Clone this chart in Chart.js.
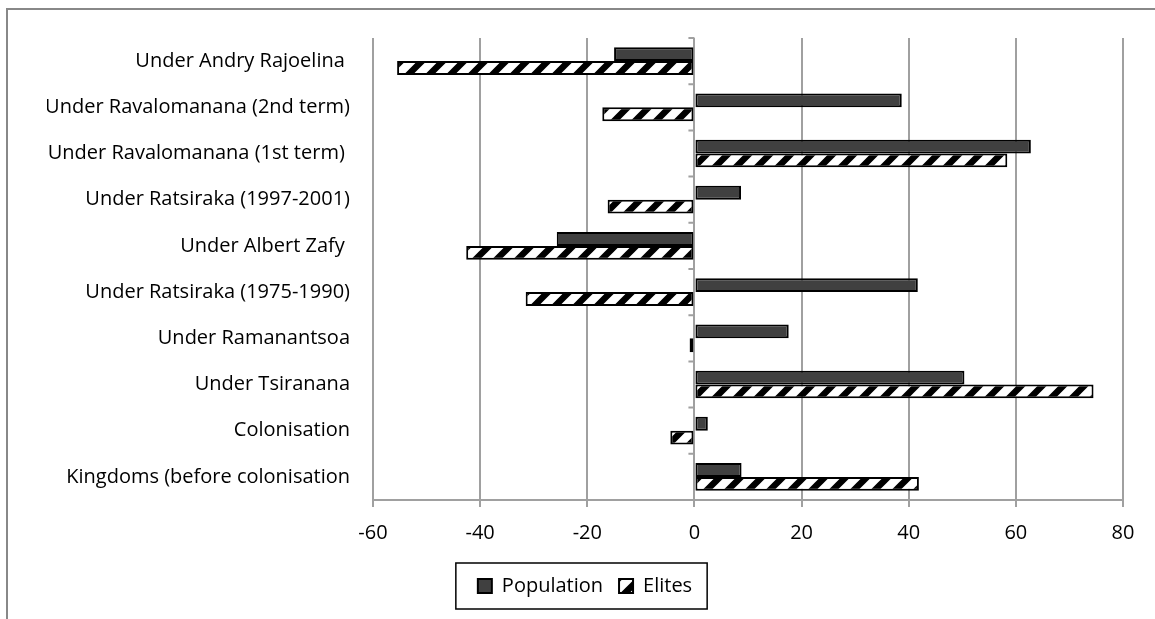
<!DOCTYPE html>
<html>
<head>
<meta charset="utf-8">
<script src="https://cdn.jsdelivr.net/npm/chart.js@4"></script>
<style>
  html, body { margin: 0; padding: 0; background: #fff; }
  #wrap { width: 1155px; height: 619px; position: relative; }
</style>
</head>
<body>
<div id="wrap"><canvas id="graphique"></canvas></div>
<script>
// données
const periodes = [
  "Under Andry Rajoelina ",
  "Under Ravalomanana (2nd term)",
  "Under Ravalomanana (1st term) ",
  "Under Ratsiraka (1997-2001)",
  "Under Albert Zafy ",
  "Under Ratsiraka (1975-1990)",
  "Under Ramanantsoa",
  "Under Tsiranana",
  "Colonisation",
  "Kingdoms (before colonisation"
];
const population = [-15, 38.7, 62.8, 8.7, -25.7, 41.7, 17.6, 50.4, 2.5, 8.8];
const elites = [-55.5, -17.2, 58.4, -16.2, -42.6, -31.5, -0.9, 74.5, -4.5, 41.9];
const xMin = -60;
const xMax = 80;
const xPas = 20;

// motif hachuré pour la série Elites
function motifHachure() {
  const c = document.createElement("canvas");
  c.width = 21;
  c.height = 21;
  const g = c.getContext("2d");
  g.fillStyle = "#fff";
  g.fillRect(0, 0, 21, 21);
  g.strokeStyle = "#000";
  g.lineWidth = 6.5;
  g.beginPath();
  g.moveTo(-5, 26);
  g.lineTo(26, -5);
  g.moveTo(-5, 5);
  g.lineTo(5, -5);
  g.moveTo(16, 26);
  g.lineTo(26, 16);
  g.stroke();
  return g.createPattern(c, "repeat");
}

Chart.defaults.font.family = "'Open Sans', sans-serif";
Chart.defaults.font.size = 20;
Chart.defaults.color = "#000";

// cadre, petites graduations sur l'axe 0 et bordure de la légende
const decor = {
  id: "decor",
  beforeDraw(chart) {
    const ctx = chart.ctx;
    ctx.save();
    ctx.strokeStyle = "#888";
    ctx.lineWidth = 2;
    ctx.beginPath();
    ctx.moveTo(7, 619);
    ctx.lineTo(7, 9);
    ctx.lineTo(1155, 9);
    ctx.stroke();
    ctx.restore();
  },
  afterDraw(chart) {
    const ctx = chart.ctx;
    const x = chart.scales.x;
    const area = chart.chartArea;
    const x0 = x.getPixelForValue(0);
    const pas = (area.bottom - area.top) / periodes.length;
    ctx.save();
    ctx.strokeStyle = "#a0a0a0";
    ctx.lineWidth = 2;
    ctx.beginPath();
    for (let i = 0; i <= periodes.length; i++) {
      const y = area.top + i * pas;
      ctx.moveTo(x0 - 6, y);
      ctx.lineTo(x0, y);
    }
    ctx.stroke();

    const boites = chart.legend.legendHitBoxes;
    if (boites && boites.length) {
      const gauche = boites[0].left - 22;
      const dernier = boites[boites.length - 1];
      const droite = dernier.left + dernier.width + 15;
      const milieu = boites[0].top + boites[0].height / 2;
      ctx.strokeStyle = "#000";
      ctx.lineWidth = 1.5;
      ctx.strokeRect(gauche, milieu - 23, droite - gauche, 46);
    }
    ctx.restore();
  }
};

const configuration = {
  type: "bar",
  data: {
    labels: periodes,
    datasets: [
      {
        label: "Population",
        data: population,
        backgroundColor: "#404040",
        borderColor: "#000",
        borderWidth: 2,
        borderSkipped: false
      },
      {
        label: "Elites",
        data: elites,
        backgroundColor: motifHachure(),
        borderColor: "#000",
        borderWidth: 2,
        borderSkipped: false
      }
    ]
  },
  options: {
    indexAxis: "y",
    responsive: false,
    animation: false,
    categoryPercentage: 0.6,
    barPercentage: 1.0,
    layout: { padding: { left: 47, right: 32, top: 38, bottom: 13 } },
    scales: {
      x: {
        min: xMin,
        max: xMax,
        ticks: { stepSize: xPas, padding: 14 },
        grid: { color: "#a0a0a0", lineWidth: 2, tickLength: 7 },
        border: { color: "#a0a0a0", width: 2 },
        afterFit(scale) { scale.height = 60; }
      },
      y: {
        grid: { display: false, drawTicks: false },
        border: { display: false },
        ticks: { padding: 23 },
        afterFit(scale) { scale.width = 326; }
      }
    },
    plugins: {
      legend: {
        position: "bottom",
        labels: { boxWidth: 14, boxHeight: 14, padding: 16 }
      },
      tooltip: { enabled: false }
    }
  },
  plugins: [decor]
};

const canvas = document.getElementById("graphique");
canvas.width = 1155;
canvas.height = 619;
canvas.style.width = "1155px";
canvas.style.height = "619px";
const chart = new Chart(canvas, configuration);
</script>
</body>
</html>
